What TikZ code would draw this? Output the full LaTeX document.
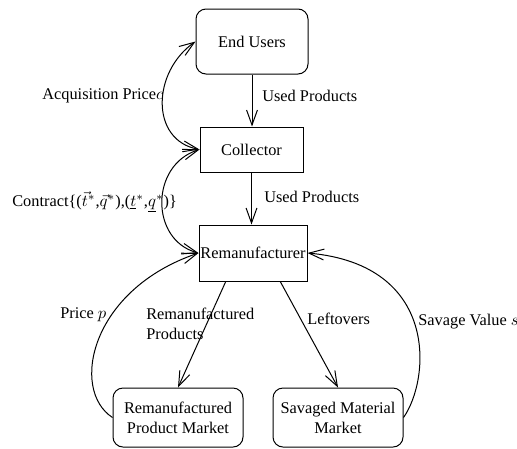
\documentclass[tikz,border=0pt]{standalone}
\usepackage{fontspec}
\setmainfont{Liberation Serif}
\usetikzlibrary{arrows.meta,calc}
\tikzset{
  caja/.style={draw, line width=0.6pt, align=center, inner sep=0pt},
  cajaredonda/.style={caja, rounded corners=6pt},
  flecha/.style={-{Straight Barb[length=9pt,width=6.5pt]}, line width=0.6pt},
  dobleflecha/.style={{Straight Barb[length=9pt,width=6.5pt]}-{Straight Barb[length=9pt,width=6.5pt]}, line width=0.6pt},
  etiqueta/.style={anchor=west, inner sep=0pt, align=left}
}
\begin{document}
\begin{tikzpicture}[x=0.6pt,y=-0.6pt,font=\fontsize{9.8}{12}\selectfont]
    \useasboundingbox (0,0) rectangle (517,448);

    % Cajas
    \node[cajaredonda, minimum width=67.2pt, minimum height=39pt] (usuarios) at (252,41.5) {End Users};
    \node[caja, minimum width=61.8pt, minimum height=27pt] (colector) at (251.5,149.5) {Collector};
    \node[caja, minimum width=64.8pt, minimum height=33.6pt] (reman) at (253,253) {Remanufacturer};
    \node[cajaredonda, minimum width=78pt, minimum height=35.4pt] (mercadorp) at (178,417.5) {Remanufactured\\Product Market};
    \node[cajaredonda, minimum width=78pt, minimum height=35.4pt] (mercadosm) at (338,417.5) {Savaged Material\\Market};

    % Flujos de productos
    \draw[flecha] (usuarios.south) -- (usuarios.south |- colector.north);
    \draw[flecha] (colector.south) -- (colector.south |- reman.north);
    \draw[flecha] ($(reman.south west)!.25!(reman.south east)$) -- (mercadorp.north);
    \draw[flecha] ($(reman.south west)!.75!(reman.south east)$) -- (mercadosm.north);

    % Flujos de pagos
    \draw[dobleflecha] (colector.west) .. controls (150,140) and (152,72) .. (usuarios.west);
    \draw[dobleflecha] (reman.west) .. controls (150,240) and (150,165) .. (colector.west);
    \draw[flecha] (mercadorp.west) .. controls (70,390) and (90,290) .. (reman.west);
    \draw[flecha] (mercadosm.east) .. controls (430,380) and (440,265) .. (reman.east);

    % Etiquetas
    \node[etiqueta] (lusados1) at (262,96) {Used Products};
    \node[etiqueta] (lusados2) at (264,197) {Used Products};
    \node[etiqueta] (ladquisicion) at (42,96) {Acquisition Price$c$};
    \node[etiqueta] (lcontrato) at (12,202) {Contract\{($\vec{t}^{*}$,$\vec{q}^{*}$),($\underline{t}^{*}$,$\underline{q}^{*}$)\}};
    \node[etiqueta] (lprecio) at (60,315) {Price $p$};
    \node[etiqueta] (lremprod) at (146,324) {Remanufactured\\Products};
    \node[etiqueta] (lsobrantes) at (307,319) {Leftovers};
    \node[etiqueta] (lsalvamento) at (418,322) {Savage Value $s$};
\end{tikzpicture}
\end{document}
